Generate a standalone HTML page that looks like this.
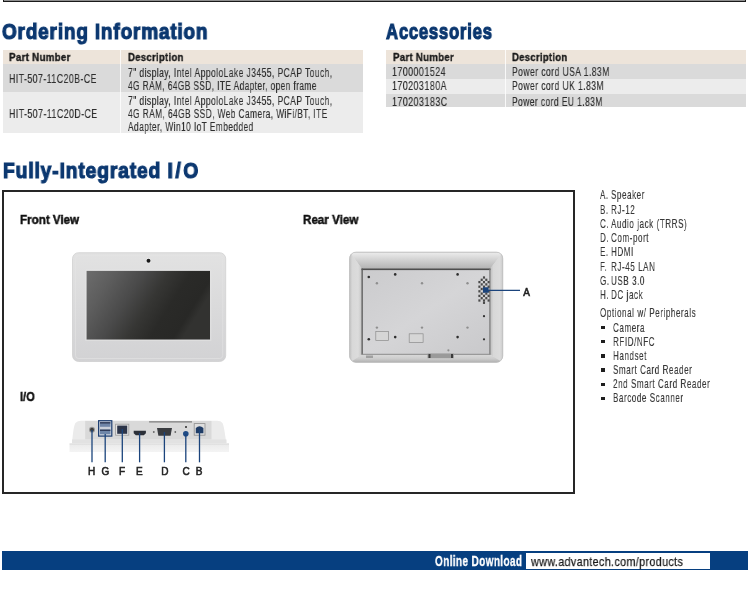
<!DOCTYPE html>
<html><head><meta charset="utf-8">
<style>
html,body{margin:0;padding:0;background:#fff;width:750px;height:591px;overflow:hidden;position:relative}
body{font-family:"Liberation Sans",sans-serif}
.a{position:absolute}
.t{position:absolute;white-space:pre;line-height:1;transform-origin:0 0;will-change:transform}
.h{font-size:22px;font-weight:700;letter-spacing:1.0px;color:#0c3870;-webkit-text-stroke:1.2px #0c3870}
.th{font-size:11.5px;font-weight:700;letter-spacing:0.3px;color:#1a1a1a;-webkit-text-stroke:0.35px #1a1a1a}
.td{font-size:12px;font-weight:400;letter-spacing:0.6px;color:#2e2e2e;-webkit-text-stroke:0.15px #2e2e2e}
.lb{font-size:13px;font-weight:700;letter-spacing:0.0px;color:#111;-webkit-text-stroke:0.5px #111}
.li{font-size:13px;font-weight:400;letter-spacing:0.9px;color:#383838;-webkit-text-stroke:0.15px #383838}
</style></head><body>

<!-- top box remnant -->
<div class="a" style="left:2.5px;top:-3px;width:741.5px;height:4px;background:#8f8f8f;border:1.6px solid #1a1a1a;border-top:none"></div>

<!-- Ordering information -->
<div class="a" style="left:3px;top:50px;width:360px;height:14px;background:#ede4da"></div>
<div class="a" style="left:3px;top:64px;width:360px;height:27.5px;background:#dadada"></div>
<div class="a" style="left:3px;top:91.5px;width:360px;height:41.5px;background:#ececec"></div>
<div class="a" style="left:120px;top:50px;width:1px;height:83px;background:#fff;opacity:.8"></div>

<!-- Accessories -->
<div class="a" style="left:386.4px;top:50px;width:360px;height:14px;background:#ede4da"></div>
<div class="a" style="left:386.4px;top:64px;width:360px;height:15px;background:#dadada"></div>
<div class="a" style="left:386.4px;top:79px;width:360px;height:15px;background:#ececec"></div>
<div class="a" style="left:386.4px;top:94px;width:360px;height:13.3px;background:#dadada"></div>
<div class="a" style="left:504.5px;top:50px;width:1px;height:57.5px;background:#fff;opacity:.8"></div>

<!-- Fully integrated I/O box -->
<div class="a" style="left:2.3px;top:190.2px;width:569px;height:300px;border:2px solid #262626"></div>

<div class="t h" style="left:2.24px;top:20.8px;transform:scaleX(0.8599)">Ordering Information</div>
<div class="t th" style="left:9.11px;top:52px;transform:scaleX(0.8536)">Part Number</div>
<div class="t th" style="left:127.92px;top:52px;transform:scaleX(0.8356)">Description</div>
<div class="t td" style="left:9.15px;top:73px;transform:scaleX(0.7318)">HIT-507-11C20B-CE</div>
<div class="t td" style="left:9.15px;top:107.5px;transform:scaleX(0.7345)">HIT-507-11C20D-CE</div>
<div class="t td" style="left:127.86px;top:67px;transform:scaleX(0.7105)">7" display, Intel AppoloLake J3455, PCAP Touch,</div>
<div class="t td" style="left:127.87px;top:80px;transform:scaleX(0.6922)">4G RAM, 64GB SSD, ITE Adapter, open frame</div>
<div class="t td" style="left:127.86px;top:95px;transform:scaleX(0.7105)">7" display, Intel AppoloLake J3455, PCAP Touch,</div>
<div class="t td" style="left:127.87px;top:108px;transform:scaleX(0.6953)">4G RAM, 64GB SSD, Web Camera, WiFi/BT, ITE</div>
<div class="t td" style="left:127.87px;top:120.5px;transform:scaleX(0.6979)">Adapter, Win10 IoT Embedded</div>
<div class="t h" style="left:385.73px;top:20.8px;transform:scaleX(0.7585)">Accessories</div>
<div class="t th" style="left:392.61px;top:52px;transform:scaleX(0.8438)">Part Number</div>
<div class="t th" style="left:511.52px;top:52px;transform:scaleX(0.8325)">Description</div>
<div class="t td" style="left:392.44px;top:66px;transform:scaleX(0.7417)">1700001524</div>
<div class="t td" style="left:392.44px;top:80.2px;transform:scaleX(0.7419)">170203180A</div>
<div class="t td" style="left:392.44px;top:95.8px;transform:scaleX(0.7434)">170203183C</div>
<div class="t td" style="left:511.86px;top:66px;transform:scaleX(0.7146)">Power cord USA 1.83M</div>
<div class="t td" style="left:511.86px;top:80.2px;transform:scaleX(0.7137)">Power cord UK 1.83M</div>
<div class="t td" style="left:511.86px;top:95.8px;transform:scaleX(0.7043)">Power cord EU 1.83M</div>
<div class="t h" style="left:2.93px;top:160.2px;transform:scaleX(0.8741)">Fully-Integrated <span style="letter-spacing:3px">I/</span>O</div>
<div class="t lb" style="left:19.64px;top:213.2px;transform:scaleX(0.8929)">Front View</div>
<div class="t lb" style="left:303.03px;top:213.2px;transform:scaleX(0.8952)">Rear View</div>
<div class="t lb" style="left:19.66px;top:390.2px;transform:scaleX(0.8526)">I/O</div>

<svg class="a" style="left:0;top:0" width="750" height="591" viewBox="0 0 750 591">
<defs>
<linearGradient id="scr" x1="0" y1="0" x2="1" y2="0.35">
<stop offset="0" stop-color="#6c6c6c"/>
<stop offset="0.2" stop-color="#5e5e5e"/>
<stop offset="0.42" stop-color="#4a4a4a"/>
<stop offset="0.6" stop-color="#363634"/>
<stop offset="0.76" stop-color="#2a2a28"/>
<stop offset="0.93" stop-color="#282826"/>
<stop offset="1" stop-color="#323230"/>
</linearGradient>
<linearGradient id="bez" x1="0" y1="0" x2="0" y2="1">
<stop offset="0" stop-color="#e2e2e2"/>
<stop offset="1" stop-color="#d2d2d4"/>
</linearGradient>
<linearGradient id="rframe" x1="0" y1="0" x2="0" y2="1">
<stop offset="0" stop-color="#ececec"/>
<stop offset="0.5" stop-color="#dcdcdc"/>
<stop offset="1" stop-color="#d0d0d0"/>
</linearGradient>
<linearGradient id="plate" x1="0" y1="0" x2="1" y2="1">
<stop offset="0" stop-color="#d6d6d6"/>
<stop offset="0.5" stop-color="#dedede"/>
<stop offset="1" stop-color="#d2d2d2"/>
</linearGradient>
</defs>
<!-- front view -->
<rect x="72.5" y="252.7" width="153.2" height="108.8" rx="6" fill="url(#bez)" stroke="#cdcdcd" stroke-width="0.7"/>
<rect x="75.5" y="255.5" width="147.2" height="103" rx="3" fill="none" stroke="#e4e4e4" stroke-width="1" opacity="0.6"/>
<rect x="85.8" y="270.1" width="125" height="70.2" fill="none" stroke="#e4e4e4" stroke-width="1" opacity="0.7"/>
<rect x="86.6" y="270.9" width="123.4" height="68.6" fill="url(#scr)"/>
<circle cx="148.5" cy="260.7" r="2.6" fill="#f0f0f0"/><circle cx="148.5" cy="260.7" r="2" fill="#1a1a1a"/>

<!-- rear view -->
<defs>
<clipPath id="rclip"><rect x="349.4" y="251.9" width="153.6" height="110.6" rx="6.5"/></clipPath>
<linearGradient id="rtop" x1="0" y1="0" x2="0" y2="1">
<stop offset="0" stop-color="#bdbdbd"/><stop offset="0.14" stop-color="#e8e8e8"/><stop offset="0.45" stop-color="#d4d4d4"/><stop offset="1" stop-color="#b2b2b2"/></linearGradient>
<linearGradient id="rside" x1="0" y1="0" x2="1" y2="0">
<stop offset="0" stop-color="#bcbcbc"/><stop offset="0.25" stop-color="#d8d8d8"/><stop offset="0.7" stop-color="#dcdcdc"/><stop offset="1" stop-color="#c4c4c4"/></linearGradient>
<linearGradient id="rbot" x1="0" y1="0" x2="0" y2="1">
<stop offset="0" stop-color="#dadada"/><stop offset="0.5" stop-color="#cccccc"/><stop offset="1" stop-color="#acacac"/></linearGradient>
<linearGradient id="rplate" x1="0" y1="0" x2="1" y2="1">
<stop offset="0" stop-color="#cbcbcd"/><stop offset="0.5" stop-color="#d5d5d7"/><stop offset="1" stop-color="#c9c9cb"/></linearGradient>
</defs>
<g clip-path="url(#rclip)">
<rect x="349" y="251" width="155" height="112" fill="#e2e2e2"/>
<polygon points="349,251 504,251 490,269 362,269" fill="url(#rtop)"/>
<polygon points="349,251 362,269 362,354.4 349,363" fill="url(#rside)"/>
<polygon points="504,251 490,269 490,354.4 504,363" fill="url(#rside)"/>
<polygon points="349,363 362,354.4 490,354.4 504,363" fill="url(#rbot)"/>
</g>
<rect x="349.6" y="252.1" width="153.2" height="110.2" rx="6.5" fill="none" stroke="#bdbdbd" stroke-width="0.7"/>
<rect x="362" y="269" width="128" height="85.4" fill="url(#rplate)"/>
<rect x="361.5" y="268.5" width="129" height="1.6" fill="#4e4e4e"/>
<rect x="361.5" y="268.5" width="1.3" height="86" fill="#5a5a5a"/>
<rect x="489.3" y="268.5" width="1.2" height="86" fill="#7a7a7a"/>
<rect x="361.5" y="353.8" width="129" height="1" fill="#8a8a8a"/>
<g fill="#2e2e2e">
<circle cx="368.8" cy="277" r="1.3"/><circle cx="395.2" cy="274.4" r="1.3"/><circle cx="457.6" cy="274.4" r="1.3"/>
<circle cx="484" cy="316.2" r="1.1"/><circle cx="368.8" cy="339.3" r="1.3"/><circle cx="395.2" cy="337.1" r="1.3"/>
<circle cx="457.6" cy="337.1" r="1.3"/><circle cx="484" cy="339.3" r="1.1"/>
</g>
<g fill="#8e8e8e">
<circle cx="376.9" cy="283.2" r="1.2"/><circle cx="422" cy="283.2" r="1.2"/><circle cx="467.5" cy="283.2" r="1.2"/>
<circle cx="376.9" cy="327.6" r="1.2"/><circle cx="422" cy="327.6" r="1.2"/><circle cx="467.5" cy="327.6" r="1.2"/>
<circle cx="448.4" cy="350.3" r="1.1"/>
</g>
<rect x="375.8" y="331.6" width="12.8" height="8.8" fill="#d6d6d6" stroke="#8c8c8c" stroke-width="0.7"/>
<rect x="409.2" y="333.8" width="13.9" height="8.8" fill="#d6d6d6" stroke="#8c8c8c" stroke-width="0.7"/>
<rect x="482.95" y="276.35" width="2.1" height="2.3" fill="#4a4a4a"/>
<rect x="480.65" y="278.65" width="2.1" height="2.3" fill="#4a4a4a"/>
<rect x="485.25" y="278.65" width="2.1" height="2.3" fill="#4a4a4a"/>
<rect x="478.35" y="280.95" width="2.1" height="2.3" fill="#4a4a4a"/>
<rect x="482.95" y="280.95" width="2.1" height="2.3" fill="#4a4a4a"/>
<rect x="487.55" y="280.95" width="2.1" height="2.3" fill="#4a4a4a"/>
<rect x="480.65" y="283.25" width="2.1" height="2.3" fill="#4a4a4a"/>
<rect x="485.25" y="283.25" width="2.1" height="2.3" fill="#4a4a4a"/>
<rect x="478.35" y="285.55" width="2.1" height="2.3" fill="#4a4a4a"/>
<rect x="482.95" y="285.55" width="2.1" height="2.3" fill="#4a4a4a"/>
<rect x="487.55" y="285.55" width="2.1" height="2.3" fill="#4a4a4a"/>
<rect x="480.65" y="287.85" width="2.1" height="2.3" fill="#4a4a4a"/>
<rect x="485.25" y="287.85" width="2.1" height="2.3" fill="#4a4a4a"/>
<rect x="478.35" y="290.15" width="2.1" height="2.3" fill="#4a4a4a"/>
<rect x="482.95" y="290.15" width="2.1" height="2.3" fill="#4a4a4a"/>
<rect x="487.55" y="290.15" width="2.1" height="2.3" fill="#4a4a4a"/>
<rect x="480.65" y="292.45" width="2.1" height="2.3" fill="#4a4a4a"/>
<rect x="485.25" y="292.45" width="2.1" height="2.3" fill="#4a4a4a"/>
<rect x="478.35" y="294.75" width="2.1" height="2.3" fill="#4a4a4a"/>
<rect x="482.95" y="294.75" width="2.1" height="2.3" fill="#4a4a4a"/>
<rect x="487.55" y="294.75" width="2.1" height="2.3" fill="#4a4a4a"/>
<rect x="480.65" y="297.05" width="2.1" height="2.3" fill="#4a4a4a"/>
<rect x="485.25" y="297.05" width="2.1" height="2.3" fill="#4a4a4a"/>
<rect x="478.35" y="299.35" width="2.1" height="2.3" fill="#4a4a4a"/>
<rect x="482.95" y="299.35" width="2.1" height="2.3" fill="#4a4a4a"/>
<rect x="487.55" y="299.35" width="2.1" height="2.3" fill="#4a4a4a"/>
<rect x="482.95" y="301.65" width="2.1" height="2.3" fill="#4a4a4a"/>
<rect x="427.5" y="353.6" width="26.4" height="4.6" fill="#9a9a9a"/>
<rect x="428.5" y="354" width="2" height="4" fill="#3a3a3a"/><rect x="451" y="354" width="2" height="4" fill="#3a3a3a"/>
<rect x="366" y="355.5" width="7" height="2.5" fill="#a0a0a0"/>
<rect x="483" y="287.3" width="5.6" height="5.4" fill="#1b447c"/>
<line x1="487" y1="290.3" x2="520" y2="290.3" stroke="#1b447c" stroke-width="1.2"/>

<!-- I/O view -->
<defs>
<linearGradient id="iobase" x1="0" y1="0" x2="0" y2="1">
<stop offset="0" stop-color="#d2d2d2"/><stop offset="0.2" stop-color="#ececec"/><stop offset="1" stop-color="#f4f4f4"/></linearGradient>
</defs>
<path d="M69.5,443.5 L229,443.5 L229,452 L69.5,452 Z" fill="url(#iobase)"/>
<path d="M72,444 C73,432 74,424 76,422.5 Q77.5,420.8 81,420.8 L217,420.8 Q221,420.8 222.5,423 C224,426 225,434 226.5,444 Z" fill="#ebebeb"/>
<rect x="85.2" y="420.9" width="126.3" height="18.6" fill="#d9d9d9"/>
<rect x="72" y="439.5" width="154.5" height="4" fill="#e2e2e2"/>
<line x1="149.1" y1="421.9" x2="192" y2="421.9" stroke="#5a5a5a" stroke-width="0.9"/>
<!-- H dc jack -->
<circle cx="92" cy="429.7" r="3" fill="#9a9a9a"/>
<circle cx="92" cy="429.7" r="2" fill="#3e3e3e"/>
<!-- G usb -->
<rect x="98.6" y="420.7" width="13.2" height="15.4" fill="#c9d0da" stroke="#1e3f72" stroke-width="1.2"/>
<rect x="100" y="422.2" width="10.4" height="4.6" fill="#6f86a8"/>
<rect x="100" y="422.2" width="10.4" height="1.3" fill="#2a3550"/>
<rect x="100" y="429.6" width="10.4" height="4.6" fill="#6f86a8"/>
<rect x="100" y="429.6" width="10.4" height="1.3" fill="#2a3550"/>
<!-- F rj45 -->
<rect x="115.6" y="424.2" width="13.2" height="11" fill="#e2e2e2" stroke="#9c9c9c" stroke-width="0.8"/>
<rect x="117.2" y="425.6" width="10" height="8.2" fill="#2c3448"/>
<!-- E hdmi -->
<path d="M133.7,430.7 L145.9,430.7 L145.9,433.3 L143.8,435.3 L135.8,435.3 L133.7,433.3 Z" fill="#2c3038"/>
<!-- D db9 -->
<path d="M157,428 L172,428 L170.6,435.8 L158.4,435.8 Z" fill="#3a3c40"/>
<circle cx="153.8" cy="432" r="0.9" fill="#666"/><circle cx="175.3" cy="432" r="0.9" fill="#666"/>
<!-- C audio -->
<circle cx="186" cy="427" r="1" fill="#2a2a2a"/>
<circle cx="185.8" cy="433.7" r="2.8" fill="#1f4b85"/>
<!-- B rj12 -->
<rect x="194.2" y="423.6" width="10.8" height="11.6" fill="#dedede" stroke="#8e8e8e" stroke-width="0.8"/>
<path d="M195.8,433.2 L195.8,428 Q199.5,424.6 203.4,428 L203.4,433.2 Z" fill="#1f3c66"/>
<g stroke="#1b447c" stroke-width="1.3">
<line x1="92" y1="430" x2="92" y2="462.3"/>
<line x1="105.2" y1="434" x2="105.2" y2="462.3"/>
<line x1="122.3" y1="429" x2="122.3" y2="462.3"/>
<line x1="139.6" y1="433" x2="139.6" y2="462.3"/>
<line x1="164.4" y1="432" x2="164.4" y2="462.3"/>
<line x1="185.8" y1="434" x2="185.8" y2="462.3"/>
<line x1="199.5" y1="430" x2="199.5" y2="462.3"/>
</g>
<g font-family="Liberation Sans" font-weight="400" font-size="10" fill="#222" stroke="#222" stroke-width="0.55" text-anchor="middle">
<text x="91.6" y="474.6">H</text><text x="105.5" y="474.6">G</text><text x="122.1" y="474.6">F</text>
<text x="139.4" y="474.6">E</text><text x="164.9" y="474.6">D</text><text x="186" y="474.6">C</text><text x="199.2" y="474.6">B</text>
<text x="526.5" y="295.6">A</text>
</g>
</svg>

<!-- list -->
<div class="t li" style="left:600.4px;top:188.3px;transform:scaleX(0.62)">A.</div>
<div class="t li" style="left:611px;top:188.3px;transform:scaleX(0.62)">Speaker</div>
<div class="t li" style="left:600.4px;top:202.5px;transform:scaleX(0.62)">B.</div>
<div class="t li" style="left:611px;top:202.5px;transform:scaleX(0.62)">RJ-12</div>
<div class="t li" style="left:600.4px;top:216.8px;transform:scaleX(0.62)">C.</div>
<div class="t li" style="left:611px;top:216.8px;transform:scaleX(0.62)">Audio jack (TRRS)</div>
<div class="t li" style="left:600.4px;top:231.0px;transform:scaleX(0.62)">D.</div>
<div class="t li" style="left:611px;top:231.0px;transform:scaleX(0.62)">Com-port</div>
<div class="t li" style="left:600.4px;top:245.3px;transform:scaleX(0.62)">E.</div>
<div class="t li" style="left:611px;top:245.3px;transform:scaleX(0.62)">HDMI</div>
<div class="t li" style="left:600.4px;top:259.5px;transform:scaleX(0.62)">F.</div>
<div class="t li" style="left:611px;top:259.5px;transform:scaleX(0.62)">RJ-45 LAN</div>
<div class="t li" style="left:600.4px;top:273.7px;transform:scaleX(0.62)">G.</div>
<div class="t li" style="left:611px;top:273.7px;transform:scaleX(0.62)">USB 3.0</div>
<div class="t li" style="left:600.4px;top:288.0px;transform:scaleX(0.62)">H.</div>
<div class="t li" style="left:611px;top:288.0px;transform:scaleX(0.62)">DC jack</div>
<div class="t li" style="left:600.4px;top:306.3px;transform:scaleX(0.62)">Optional w/ Peripherals</div>
<div class="a" style="left:601px;top:325.9px;width:3.6px;height:3.3px;background:#1e1e1e"></div>
<div class="t li" style="left:613.4px;top:320.5px;transform:scaleX(0.62)">Camera</div>
<div class="a" style="left:601px;top:340.1px;width:3.6px;height:3.3px;background:#1e1e1e"></div>
<div class="t li" style="left:613.4px;top:334.7px;transform:scaleX(0.62)">RFID/NFC</div>
<div class="a" style="left:601px;top:354.3px;width:3.6px;height:3.3px;background:#1e1e1e"></div>
<div class="t li" style="left:613.4px;top:348.9px;transform:scaleX(0.62)">Handset</div>
<div class="a" style="left:601px;top:368.4px;width:3.6px;height:3.3px;background:#1e1e1e"></div>
<div class="t li" style="left:613.4px;top:363.0px;transform:scaleX(0.62)">Smart Card Reader</div>
<div class="a" style="left:601px;top:382.6px;width:3.6px;height:3.3px;background:#1e1e1e"></div>
<div class="t li" style="left:613.4px;top:377.2px;transform:scaleX(0.62)">2nd Smart Card Reader</div>
<div class="a" style="left:601px;top:396.8px;width:3.6px;height:3.3px;background:#1e1e1e"></div>
<div class="t li" style="left:613.4px;top:391.4px;transform:scaleX(0.62)">Barcode Scanner</div>

<!-- footer -->
<div class="a" style="left:2px;top:551.2px;width:746px;height:18.9px;background:#063f80"></div>
<div class="a" style="left:526px;top:552.6px;width:184px;height:16px;background:#fff"></div>
<div class="t" style="left:435px;top:555px;font-size:13.8px;font-weight:700;letter-spacing:0.5px;color:#fff;-webkit-text-stroke:0.3px #fff;transform:scaleX(0.727)">Online Download</div>
<div class="t" style="left:530.6px;top:556.4px;font-size:12.9px;letter-spacing:0.4px;color:#1a1a1a;-webkit-text-stroke:0.25px #1a1a1a;transform:scaleX(0.838)">www.advantech.com/products</div>

</body></html>
